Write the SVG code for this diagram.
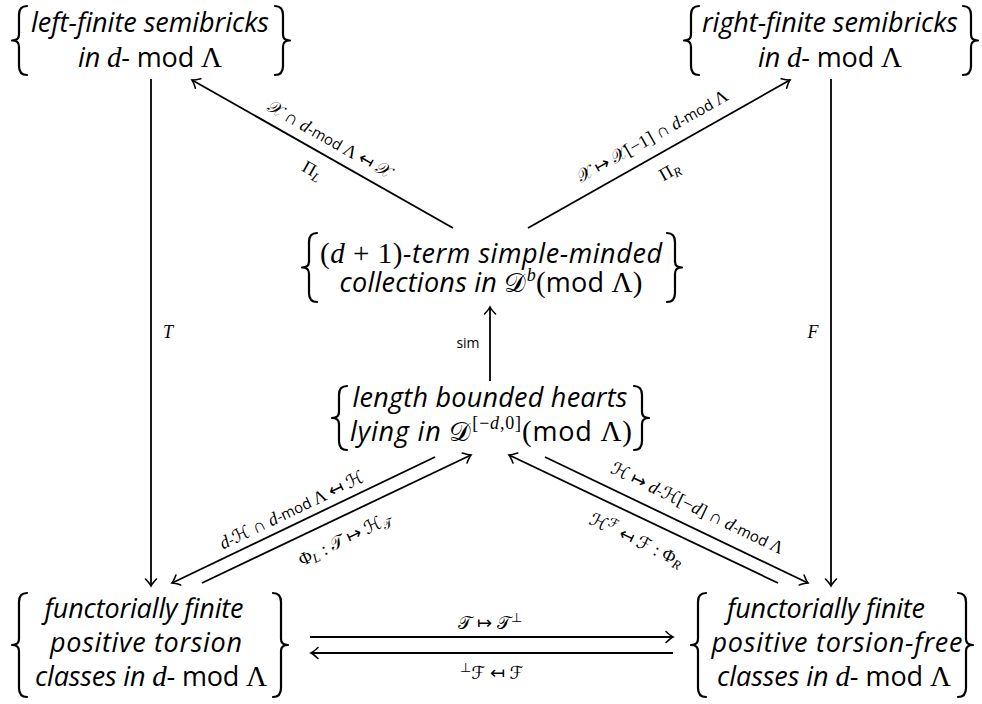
<svg xmlns="http://www.w3.org/2000/svg" width="982" height="704" viewBox="0 0 982 704">
<style>
.bg{fill:#fff}
.br{fill:none;stroke:#000;stroke-width:2.2;stroke-linecap:round;stroke-linejoin:round}
.ln{fill:none;stroke:#000;stroke-width:1.8;marker-end:url(#ah)}
text{fill:#000}
.nt{font-size:27px;text-anchor:middle}
.it{font-family:"Open Sans",sans-serif;font-style:italic}
.sf{font-family:"Open Sans",sans-serif;font-style:normal}
.mi{font-family:"Liberation Serif",serif;font-style:italic}
.rm{font-family:"Liberation Serif",serif;font-style:normal}
.nt .mi,.nt .rm{font-size:29px}
.cal{font-family:"DejaVu Serif","DejaVu Sans",serif;font-style:normal}
.ar{font-family:"DejaVu Sans",sans-serif;font-style:normal}
.lb{font-size:18px;text-anchor:middle}
.md{font-size:15px}
.sb{font-size:13px}
.nt .sp{font-size:18px}
</style>
<defs>
<marker id="ah" viewBox="-10 -7 12 14" refX="0" refY="0" markerWidth="12" markerHeight="14" orient="auto" markerUnits="userSpaceOnUse">
<path d="M-7,-5.5 Q-2.5,-1.2 0,0 Q-2.5,1.2 -7,5.5" fill="none" stroke="#000" stroke-width="1.6" stroke-linecap="round"/>
</marker>
</defs>
<rect class="bg" x="0" y="0" width="982" height="704"/>

<g id="node-left-semibricks">
<path class="br" d="M27,6 Q19,6 19,15 L19,34.5 Q19,40.5 12,40.5 Q19,40.5 19,46.5 L19,66 Q19,75 27,75"/>
<path class="br" d="M275,6 Q283,6 283,15 L283,34.5 Q283,40.5 290,40.5 Q283,40.5 283,46.5 L283,66 Q283,75 275,75"/>
<text class="nt it" x="150" y="32" textLength="238" lengthAdjust="spacing">left-finite semibricks</text>
<text class="nt" x="150" y="67" textLength="144" lengthAdjust="spacing"><tspan class="it">in </tspan><tspan class="mi">d</tspan><tspan class="sf">- mod </tspan><tspan class="rm">Λ</tspan></text>
</g>

<g id="node-right-semibricks">
<path class="br" d="M699,6 Q691,6 691,15 L691,34.5 Q691,40.5 684,40.5 Q691,40.5 691,46.5 L691,66 Q691,75 699,75"/>
<path class="br" d="M963,6 Q971,6 971,15 L971,34.5 Q971,40.5 978,40.5 Q971,40.5 971,46.5 L971,66 Q971,75 963,75"/>
<text class="nt it" x="830" y="32" textLength="256" lengthAdjust="spacing">right-finite semibricks</text>
<text class="nt" x="830" y="67" textLength="144" lengthAdjust="spacing"><tspan class="it">in </tspan><tspan class="mi">d</tspan><tspan class="sf">- mod </tspan><tspan class="rm">Λ</tspan></text>
</g>

<g id="node-smc">
<path class="br" d="M317,233 Q309,233 309,242 L309,261.5 Q309,267.5 302,267.5 Q309,267.5 309,273.5 L309,293 Q309,302 317,302"/>
<path class="br" d="M667,233 Q675,233 675,242 L675,261.5 Q675,267.5 682,267.5 Q675,267.5 675,273.5 L675,293 Q675,302 667,302"/>
<text class="nt" x="491" y="263" textLength="342" lengthAdjust="spacing"><tspan class="rm">(</tspan><tspan class="mi">d</tspan><tspan class="rm"> + 1)</tspan><tspan class="it">-term simple-minded</tspan></text>
<text class="nt" x="491" y="292" textLength="303" lengthAdjust="spacing"><tspan class="it">collections in </tspan><tspan class="cal">𝒟</tspan><tspan class="mi sp" dy="-11">b</tspan><tspan class="rm" dy="11">(</tspan><tspan class="sf">mod </tspan><tspan class="rm">Λ)</tspan></text>
</g>

<g id="node-hearts">
<path class="br" d="M347,386 Q339,386 339,395 L339,412 Q339,418 332,418 Q339,418 339,424 L339,441 Q339,450 347,450"/>
<path class="br" d="M634,386 Q642,386 642,395 L642,412 Q642,418 649,418 Q642,418 642,424 L642,441 Q642,450 634,450"/>
<text class="nt it" x="490" y="407" textLength="275" lengthAdjust="spacing">length bounded hearts</text>
<text class="nt" x="491" y="441" textLength="282" lengthAdjust="spacing"><tspan class="it">lying in </tspan><tspan class="cal">𝒟</tspan><tspan class="rm sp" dy="-12">[−</tspan><tspan class="mi sp">d</tspan><tspan class="rm sp">,0]</tspan><tspan class="rm" dy="12">(</tspan><tspan class="sf">mod </tspan><tspan class="rm">Λ)</tspan></text>
</g>

<g id="node-torsion">
<path class="br" d="M27,593 Q19,593 19,602 L19,639 Q19,645 12,645 Q19,645 19,651 L19,688 Q19,697 27,697"/>
<path class="br" d="M273,593 Q281,593 281,602 L281,639 Q281,645 288,645 Q281,645 281,651 L281,688 Q281,697 273,697"/>
<text class="nt it" x="144" y="618" textLength="199" lengthAdjust="spacing">functorially finite</text>
<text class="nt it" x="146" y="652" textLength="192" lengthAdjust="spacing">positive torsion</text>
<text class="nt" x="151" y="686" textLength="232" lengthAdjust="spacing"><tspan class="it">classes in </tspan><tspan class="mi">d</tspan><tspan class="sf">- mod </tspan><tspan class="rm">Λ</tspan></text>
</g>

<g id="node-torsionfree">
<path class="br" d="M706,593 Q698,593 698,602 L698,639 Q698,645 691,645 Q698,645 698,651 L698,688 Q698,697 706,697"/>
<path class="br" d="M958,593 Q966,593 966,602 L966,639 Q966,645 973,645 Q966,645 966,651 L966,688 Q966,697 958,697"/>
<text class="nt it" x="826" y="618" textLength="198" lengthAdjust="spacing">functorially finite</text>
<text class="nt it" x="837" y="652" textLength="251" lengthAdjust="spacing">positive torsion-free</text>
<text class="nt" x="834" y="686" textLength="234" lengthAdjust="spacing"><tspan class="it">classes in </tspan><tspan class="mi">d</tspan><tspan class="sf">- mod </tspan><tspan class="rm">Λ</tspan></text>
</g>

<g id="connectors">
<line class="ln" x1="151" y1="79" x2="151" y2="586"/>
<line class="ln" x1="831" y1="79" x2="831" y2="586"/>
<line class="ln" x1="453" y1="228" x2="192" y2="80"/>
<line class="ln" x1="528" y1="228" x2="790" y2="80"/>
<line class="ln" x1="490" y1="381" x2="490" y2="307"/>
<line class="ln" x1="435" y1="457" x2="172" y2="583"/>
<line class="ln" x1="202" y1="583" x2="471" y2="455"/>
<line class="ln" x1="545" y1="457" x2="808" y2="583"/>
<line class="ln" x1="778" y1="583" x2="509" y2="455"/>
<line class="ln" x1="310" y1="637" x2="673" y2="637"/>
<line class="ln" x1="673" y1="653" x2="311" y2="653"/>

<text class="lb mi" x="168" y="338">T</text>
<text class="lb mi" x="813" y="338">F</text>
<text class="sf" font-size="14" text-anchor="middle" x="468" y="348">sim</text>

<g transform="translate(329,140) rotate(29.56)"><text class="lb" x="0" y="5"><tspan class="cal">𝒳</tspan><tspan class="rm"> ∩ </tspan><tspan class="mi">d</tspan><tspan class="sf md">-mod </tspan><tspan class="rm">Λ </tspan><tspan class="ar">↤</tspan><tspan class="rm"> </tspan><tspan class="cal">𝒳</tspan></text></g>
<g transform="translate(312,171) rotate(29.56)"><text class="lb" x="0" y="5"><tspan class="rm">Π</tspan><tspan class="mi sb" dy="3">L</tspan></text></g>

<g transform="translate(653,137) rotate(-29.56)"><text class="lb" x="0" y="5"><tspan class="cal">𝒳</tspan><tspan class="rm"> </tspan><tspan class="ar">↦</tspan><tspan class="rm"> </tspan><tspan class="cal">𝒳</tspan><tspan class="rm">[−1] ∩ </tspan><tspan class="mi">d</tspan><tspan class="sf md">-mod </tspan><tspan class="rm">Λ</tspan></text></g>
<g transform="translate(670,172) rotate(-29.56)"><text class="lb" x="0" y="5"><tspan class="rm">Π</tspan><tspan class="mi sb" dy="3">R</tspan></text></g>

<g transform="translate(292,511) rotate(-25.6)"><text class="lb" x="0" y="5"><tspan class="mi">d</tspan><tspan class="sf md">-</tspan><tspan class="cal">ℋ</tspan><tspan class="rm"> ∩ </tspan><tspan class="mi">d</tspan><tspan class="sf md">-mod </tspan><tspan class="rm">Λ </tspan><tspan class="ar">↤</tspan><tspan class="rm"> </tspan><tspan class="cal">ℋ</tspan></text></g>
<g transform="translate(345,540) rotate(-25.6)"><text class="lb" x="0" y="5"><tspan class="rm">Φ</tspan><tspan class="mi sb" dy="3">L</tspan><tspan class="rm" dy="-3"> : </tspan><tspan class="cal">𝒯</tspan><tspan class="rm"> </tspan><tspan class="ar">↦</tspan><tspan class="rm"> </tspan><tspan class="cal">ℋ</tspan><tspan class="cal sb" dy="3">𝒯</tspan></text></g>

<g transform="translate(697,509) rotate(25.6)"><text class="lb" x="0" y="5"><tspan class="cal">ℋ</tspan><tspan class="rm"> </tspan><tspan class="ar">↦</tspan><tspan class="rm"> </tspan><tspan class="mi">d</tspan><tspan class="sf md">-</tspan><tspan class="cal">ℋ</tspan><tspan class="rm">[−</tspan><tspan class="mi">d</tspan><tspan class="rm">] ∩ </tspan><tspan class="mi">d</tspan><tspan class="sf md">-mod </tspan><tspan class="rm">Λ</tspan></text></g>
<g transform="translate(636,541) rotate(25.6)"><text class="lb" x="0" y="5"><tspan class="cal">ℋ</tspan><tspan class="cal sb" dy="-7">ℱ</tspan><tspan class="rm" dy="7">    </tspan><tspan class="ar">↤</tspan><tspan class="rm"> </tspan><tspan class="cal">ℱ</tspan><tspan class="rm"> : Φ</tspan><tspan class="mi sb" dy="3">R</tspan></text></g>

<text class="lb" x="490" y="629"><tspan class="cal">𝒯</tspan><tspan class="rm"> </tspan><tspan class="ar">↦</tspan><tspan class="rm"> </tspan><tspan class="cal">𝒯</tspan><tspan class="rm sb" dy="-7">⊥</tspan></text>
<text class="lb" x="492" y="679"><tspan class="rm sb" dy="-7">⊥</tspan><tspan class="cal" dy="7">ℱ</tspan><tspan class="rm"> </tspan><tspan class="ar">↤</tspan><tspan class="rm"> </tspan><tspan class="cal">ℱ</tspan></text>
</g>
</svg>
